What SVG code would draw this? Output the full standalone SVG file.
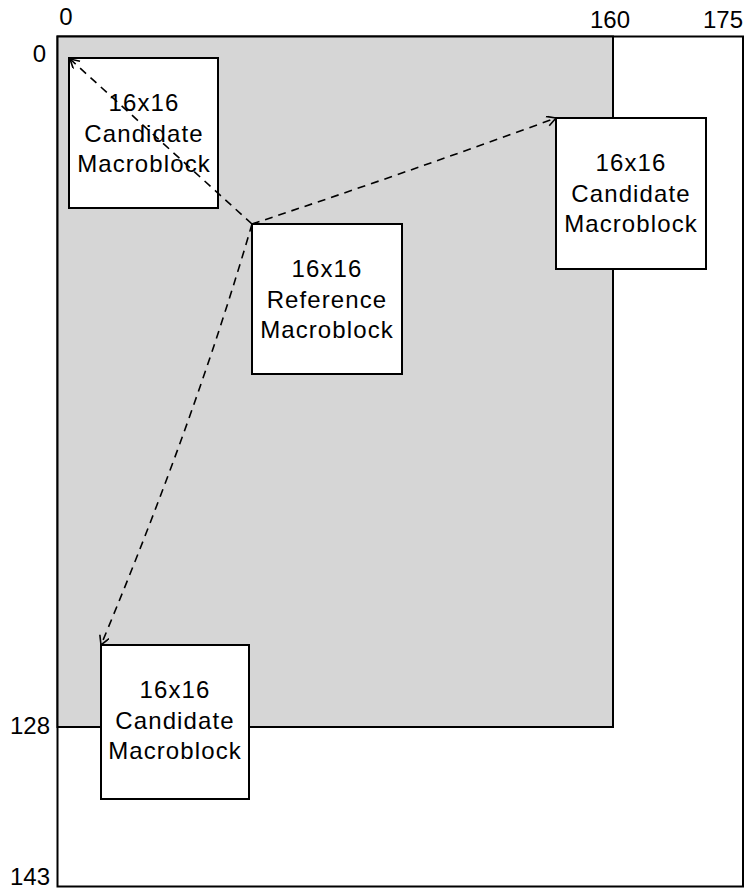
<svg xmlns="http://www.w3.org/2000/svg" width="746" height="890" viewBox="0 0 746 890">
<style>
text{font-family:"Liberation Sans",Arial,sans-serif;font-size:24px;fill:#000}
.box{fill:#fff;stroke:#000;stroke-width:2}
.lbl{text-anchor:middle}
.bt{text-anchor:middle;letter-spacing:1.1px}
.conn{fill:none;stroke:#000;stroke-width:1.6;stroke-dasharray:8,6}
</style>
<defs>
<marker id="arr" markerWidth="12" markerHeight="12" refX="10" refY="5" orient="auto" markerUnits="userSpaceOnUse">
<path d="M1,0 L10,5 L1,10" fill="none" stroke="#000" stroke-width="1.6"/>
</marker>
</defs>
<rect id="frame" x="57.5" y="36.5" width="685.5" height="850" fill="#fff" stroke="#000" stroke-width="2"/>
<rect id="search" x="57.5" y="36.5" width="555.5" height="690.5" fill="#d6d6d6" stroke="#000" stroke-width="2"/>
<g id="axis">
<text x="66" y="25" class="lbl">0</text>
<text x="610" y="28" class="lbl">160</text>
<text x="723" y="28" class="lbl">175</text>
<text x="46" y="62" text-anchor="end">0</text>
<text x="50" y="734" text-anchor="end">128</text>
<text x="50" y="885" text-anchor="end">143</text>
</g>
<g id="cand1">
<rect class="box" x="69" y="58" width="149" height="150"/>
<text class="bt" x="144" y="111">16x16</text>
<text class="bt" x="144" y="142">Candidate</text>
<text class="bt" x="144" y="172">Macroblock</text>
</g>
<g id="cand2">
<rect class="box" x="556" y="118" width="150" height="151"/>
<text class="bt" x="631" y="171">16x16</text>
<text class="bt" x="631" y="202">Candidate</text>
<text class="bt" x="631" y="232">Macroblock</text>
</g>
<g id="ref">
<rect class="box" x="252" y="224" width="150" height="150"/>
<text class="bt" x="327" y="277">16x16</text>
<text class="bt" x="327" y="308">Reference</text>
<text class="bt" x="327" y="338">Macroblock</text>
</g>
<g id="cand3">
<rect class="box" x="101" y="645" width="148" height="154"/>
<text class="bt" x="175" y="698">16x16</text>
<text class="bt" x="175" y="729">Candidate</text>
<text class="bt" x="175" y="759">Macroblock</text>
</g>
<g id="connectors">
<path class="conn" d="M252,224 L70,59" marker-end="url(#arr)"/>
<path class="conn" d="M252,224 Q400,175 556,118" marker-end="url(#arr)"/>
<path class="conn" d="M252,224 Q195,420 101,645" marker-end="url(#arr)"/>
</g>
</svg>
